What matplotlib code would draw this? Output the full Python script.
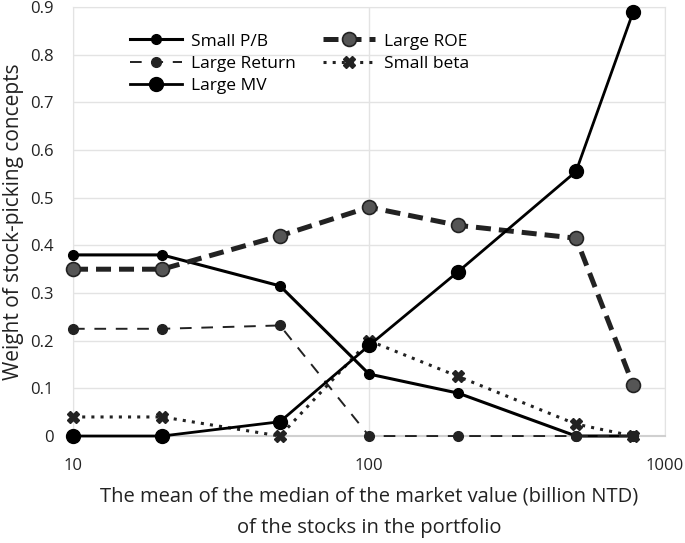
import matplotlib
matplotlib.use("Agg")
import matplotlib.pyplot as plt
from matplotlib.ticker import FixedLocator, FixedFormatter, NullLocator

plt.rcParams["font.family"] = ["Open Sans", "DejaVu Sans"]

# market value (billion NTD) of each portfolio
mv = [10, 20, 50, 100, 200, 500, 780]

small_pb = [0.38, 0.38, 0.315, 0.13, 0.09, 0.0, 0.0]
large_roe = [0.35, 0.35, 0.42, 0.48, 0.442, 0.415, 0.107]
large_ret = [0.225, 0.225, 0.232, 0.0, 0.0, 0.0, 0.0]
small_beta = [0.04, 0.04, 0.0, 0.2, 0.125, 0.025, 0.0]
large_mv = [0.0, 0.0, 0.03, 0.19, 0.345, 0.555, 0.89]

yticks = [0, 0.1, 0.2, 0.3, 0.4, 0.5, 0.6, 0.7, 0.8, 0.9]
ytick_labels = ["0", "0.1", "0.2", "0.3", "0.4", "0.5", "0.6", "0.7", "0.8", "0.9"]
xticks = [10, 100, 1000]
xtick_labels = ["10", "100", "1000"]

fig = plt.figure(figsize=(6.85, 5.43), dpi=100)
ax = fig.add_axes([0.1066, 0.197, 0.8644, 0.790])

common = dict(clip_on=False, zorder=3)
h1, = ax.plot(mv, small_pb, color="black", lw=2.2, marker="o", ms=7, label="Small P/B", **common)
h4, = ax.plot(mv, large_roe, color="#222222", lw=3.6, ls=(0, (3.0, 1.6)), marker="o", ms=10,
              mfc="#555555", mec="#222222", mew=1.2, label="Large ROE", **common)
h2, = ax.plot(mv, large_ret, color="#222222", lw=1.4, ls=(0, (6, 5)), marker="o", ms=7,
              label="Large Return", **common)
h5, = ax.plot(mv, small_beta, color="#222222", lw=2.2, ls=(0, (1, 2)), marker="X", ms=8,
              label="Small beta", **common)
h3, = ax.plot(mv, large_mv, color="black", lw=2.0, marker="o", ms=10, label="Large MV", **common)

ax.set_xscale("log")
ax.set_xlim(10, 1000)
ax.set_ylim(0, 0.9)
ax.xaxis.set_major_locator(FixedLocator(xticks))
ax.xaxis.set_major_formatter(FixedFormatter(xtick_labels))
ax.xaxis.set_minor_locator(NullLocator())
ax.set_yticks(yticks)
ax.set_yticklabels(ytick_labels)
ax.tick_params(length=0, labelsize=12, colors="#222222")
ax.tick_params(axis="y", pad=14)
ax.tick_params(axis="x", pad=16)
ax.grid(True, color="#e3e3e3", lw=1)
ax.set_axisbelow(True)
for s in ax.spines.values():
    s.set_color("#e3e3e3")
ax.spines["bottom"].set_color("#d0d0d0")
ax.spines["bottom"].set_linewidth(1.5)

ax.set_ylabel("Weight of stock-picking concepts", fontsize=15, color="#222222", labelpad=4)
ax.set_xlabel("The mean of the median of the market value (billion NTD)\nof the stocks in the portfolio",
              fontsize=14.5, color="#222222", labelpad=9, linespacing=1.75)

ax.legend(handles=[h1, h2, h3, h4, h5], ncol=2, frameon=False, loc="upper left",
          bbox_to_anchor=(0.07, 0.975), fontsize=12.5, handlelength=3.0,
          columnspacing=1.6, labelspacing=0.35, handletextpad=0.5)

fig.savefig("out.png", dpi=100)
